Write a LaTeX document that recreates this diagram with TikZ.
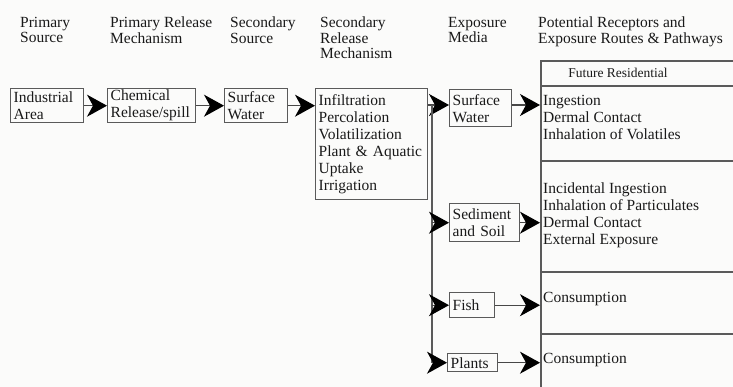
\documentclass[tikz,border=0pt]{standalone}
\usepackage{fontspec}
\setmainfont{Liberation Serif}
\usetikzlibrary{arrows.meta}
\definecolor{paper}{RGB}{251,251,250}
\definecolor{ink}{RGB}{25,25,25}
\definecolor{rule}{RGB}{90,90,90}
\newcommand\bodysize{\fontsize{15.5}{17}\selectfont}
\newcommand\headsize{\fontsize{15.5}{15.5}\selectfont}
\begin{document}
\begin{tikzpicture}[x=1pt,y=-1pt,
  head/.style={anchor=north west, inner sep=0pt, align=left, font=\headsize, text=ink},
  stepbox/.style={draw=rule, line width=1.4pt, anchor=north west, inner xsep=3pt,
    inner ysep=0pt, align=left, font=\bodysize, text=ink},
  cell/.style={draw=rule, line width=1.7pt, anchor=north west, minimum width=215pt, inner sep=0pt},
  route/.style={anchor=north west, inner sep=0pt, align=left, font=\bodysize, text=ink},
  arr/.style={draw=ink!80, line width=1.2pt, -{Stealth[length=20pt,width=22pt,inset=6pt,fill=black,color=black]}},
  trunk/.style={draw=rule, line width=1.4pt}]
\useasboundingbox (0,0) rectangle (733,387);
\fill[paper] (0,0) rectangle (733,387);

% column headings
\node[head] (h1) at (20,17)  {Primary\\Source};
\node[head] (h2) at (110,17) {Primary Release\\Mechanism};
\node[head] (h3) at (230,17) {Secondary\\Source};
\node[head] (h4) at (320,17) {Secondary\\Release\\Mechanism};
\node[head] (h5) at (448,17) {Exposure\\Media};
\node[head] (h6) at (538,17) {Potential Receptors and\\Exposure Routes \& Pathways};

% source and release chain
\node[stepbox, text width=67pt,  minimum height=34pt]  (ind)    at (10,88)  {Industrial\\Area};
\node[stepbox, text width=82pt,  minimum height=34pt]  (chem)   at (107,88) {Chemical\\Release/spill};
\node[stepbox, text width=57pt,  minimum height=34pt]  (ssw)    at (224,88) {Surface\\Water};
\node[stepbox, text width=106pt, minimum height=111pt] (infl)   at (315,88)
  {Infiltration\\Percolation\\Volatilization\\Plant \& Aquatic\\Uptake\\Irrigation};

% exposure media
\node[stepbox, text width=56pt, minimum height=37pt] (esw)    at (449,89)  {Surface\\Water};
\node[stepbox, text width=64pt, minimum height=38pt] (sed)    at (449,203) {Sediment\\and Soil};
\node[stepbox, text width=39pt, minimum height=25pt] (fish)   at (449,292) {Fish};
\node[stepbox, text width=44pt, minimum height=18pt] (plants) at (447,353) {Plants};

% receptor table
\node[cell, minimum height=25pt]  (c0) at (540,60)  {};
\node[cell, minimum height=75pt]  (c1) at (540,85)  {};
\node[cell, minimum height=111pt] (c2) at (540,160) {};
\node[cell, minimum height=62pt]  (c3) at (540,271) {};
\node[cell, minimum height=70pt]  (c4) at (540,333) {};
\node[inner sep=0pt, font=\fontsize{13.5}{15}\selectfont, text=ink] (fr) at (618,73) {Future Residential};
\node[route] (r1) at (543,95)  {Ingestion\\Dermal Contact\\Inhalation of Volatiles};
\node[route] (r2) at (543,183) {Incidental Ingestion\\Inhalation of Particulates\\Dermal Contact\\External Exposure};
\node[route] (r3) at (543,292) {Consumption};
\node[route] (r4) at (543,353) {Consumption};

% connectors
\draw[arr] (ind.east) -- (chem.west);
\draw[arr] (chem.east) -- (ssw.west);
\draw[arr] (ssw.east) -- (infl.west |- ssw.east);
\coordinate (split) at (432,105);
\draw[arr] (infl.east |- split) -- (esw.west |- split);
\draw[trunk] (split) -- (split |- plants.west);
\draw[arr] (split |- sed.west) -- (sed.west);
\draw[arr] (split |- fish.west) -- (fish.west);
\draw[arr] (split |- plants.west) -- (plants.west);
\draw[arr] (esw.east |- split) -- (c1.west |- split);
\draw[arr] (sed.east) -- (c2.west |- sed.east);
\draw[arr] (fish.east) -- (c3.west |- fish.east);
\draw[arr] (plants.east) -- (c4.west |- plants.east);
\end{tikzpicture}
\end{document}
